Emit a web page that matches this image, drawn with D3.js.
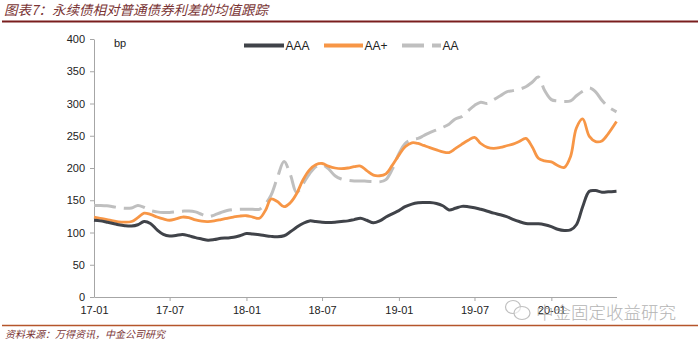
<!DOCTYPE html>
<html>
<head>
<meta charset="utf-8">
<script src="https://cdn.jsdelivr.net/npm/d3@7"></script>
<style>
  html, body { margin: 0; padding: 0; background: #fff; }
  svg { display: block; }
</style>
</head>
<body>
<svg id="chart" width="700" height="342"></svg>
<script>
// ---- text ----
const titleText = "图表7：永续债相对普通债券利差的均值跟踪";
const sourceText = "资料来源：万得资讯，中金公司研究";
const watermarkText = "中金固定收益研究";
const unitLabel = "bp";
const seriesNames = ["AAA", "AA+", "AA"];

// ---- axes ----
const xTickLabels = ["17-01", "17-07", "18-01", "18-07", "19-01", "19-07", "20-01"];
const yTickValues = [0, 50, 100, 150, 200, 250, 300, 350, 400];

// ---- observation dates (semi-monthly) ----
const dates = [
  "2017-01-01","2017-01-16","2017-02-01","2017-02-16","2017-03-01","2017-03-16","2017-04-01","2017-04-16",
  "2017-05-01","2017-05-16","2017-06-01","2017-06-16","2017-07-01","2017-07-16","2017-08-01","2017-08-16",
  "2017-09-01","2017-09-16","2017-10-01","2017-10-16","2017-11-01","2017-11-16","2017-12-01","2017-12-16",
  "2018-01-01","2018-01-16","2018-02-01","2018-02-16","2018-03-01","2018-03-16","2018-04-01","2018-04-16",
  "2018-05-01","2018-05-16","2018-06-01","2018-06-16","2018-07-01","2018-07-16","2018-08-01","2018-08-16",
  "2018-09-01","2018-09-16","2018-10-01","2018-10-16","2018-11-01","2018-11-16","2018-12-01","2018-12-16",
  "2019-01-01","2019-01-16","2019-02-01","2019-02-16","2019-03-01","2019-03-16","2019-04-01","2019-04-16",
  "2019-05-01","2019-05-16","2019-06-01","2019-06-16","2019-07-01","2019-07-16","2019-08-01","2019-08-16",
  "2019-09-01","2019-09-16","2019-10-01","2019-10-16","2019-11-01","2019-11-16","2019-12-01","2019-12-16",
  "2020-01-01","2020-01-16","2020-02-01","2020-02-16","2020-03-01","2020-03-16","2020-04-01","2020-04-16",
  "2020-05-01","2020-05-16","2020-06-05"
];

// ---- spread averages, bp ----
const aaa = [
  119,118,116,114,112,110.5,110,112,117,114,104,97,94.5,95.5,97,95,
  92,90,88,89,91,91.5,92.5,95,98.5,97.5,96.5,95,94,93.5,95,101,
  108,114,118,117,116,115.5,116,117,118,120,122,119,115,118,124,129,
  134,140,144,146,146.5,146.5,145,141.5,135,137.5,140.5,140,138.5,136,133,130,
  127.5,124.5,120.5,117,114,113.5,113.5,112,109,105,103,104,112,140,164,165,
  162.5,163,164
];
const aaPlus = [
  124,122,120,118,116.5,116,117,123,130,128,124,121,119,121,124,123,
  119.5,117.5,117,118,120,122,124,125.5,126,124,122,135,152,148,140,146,
  160,181,197,205,207,203,200,199,200,202,203,196,189,188,191,204,
  220,233,239,238,235,231.5,228,225,224,230,237,243,247.5,238,232,230.5,
  232,234.5,237,241,246,233,215,211,209.5,204,201,218,262,276,249,241,
  242,253,272
];
const aa = [
  142,142,141.5,140,138.5,137.5,138,142,139,134,132,131,131,132,133,133.5,
  132,128,124.5,127,131,134,135.5,136,136,136,136,145,158,185,210,190,
  162,175,191,202,205,199,188,183,181,180,180,179.5,179,178.5,182,198,
  222,238,244,246,250,255,259,263,268,276,280,289,297,302,300,306,
  312,318,320,322,326,333,341,320,306,304,303,304,312,319,324,318,
  305,295,287
];

// ---- styles ----
const colors = { "AAA": "#404349", "AA+": "#f79646", "AA": "#bfbfbf" };
const widths = { "AAA": 3, "AA+": 2.8, "AA": 3 };
const dashes = { "AAA": null, "AA+": null, "AA": "22,8" };

const parseDate = d3.timeParse("%Y-%m-%d");
const parseTick = d3.timeParse("%y-%m");
const series = [
  { name: "AAA", values: aaa },
  { name: "AA+", values: aaPlus },
  { name: "AA", values: aa }
].map(s => ({ name: s.name, points: s.values.map((v, i) => ({ date: parseDate(dates[i]), value: v })) }));

const svg = d3.select("#chart");
svg.append("rect").attr("width", 700).attr("height", 342).attr("fill", "#fff");

const numFont = "'Liberation Sans', Arial, sans-serif";
const cjkFont = "'Noto Sans CJK SC', 'Noto Sans', sans-serif";

// header
svg.append("text")
  .attr("x", 4).attr("y", 15)
  .attr("font-family", cjkFont).attr("font-size", 13.5).attr("font-style", "italic")
  .attr("fill", "#7a3434")
  .text(titleText);
svg.append("line").attr("x1", 2).attr("x2", 698).attr("y1", 21.5).attr("y2", 21.5)
  .attr("stroke", "#7a1e1e").attr("stroke-width", 2);

// footer
svg.append("line").attr("x1", 2).attr("x2", 698).attr("y1", 325.5).attr("y2", 325.5)
  .attr("stroke", "#b5552b").attr("stroke-width", 1.5);
svg.append("text")
  .attr("x", 5).attr("y", 338)
  .attr("font-family", cjkFont).attr("font-size", 10).attr("font-style", "italic")
  .attr("fill", "#7a3434")
  .text(sourceText);

// scales
const x = d3.scaleTime()
  .domain([parseDate(dates[0]), parseDate(dates[dates.length - 1])])
  .range([94, 616.5]);
const y = d3.scaleLinear().domain([0, 400]).range([297, 39]);

const axisColor = "#a6a6a6";

// y axis
const yAxis = svg.append("g").attr("transform", "translate(94,0)")
  .call(d3.axisLeft(y).tickValues(yTickValues).tickSize(4).tickSizeOuter(0).tickPadding(5));
yAxis.select(".domain").attr("stroke", axisColor);
yAxis.selectAll(".tick line").attr("stroke", axisColor);
yAxis.selectAll(".tick text")
  .attr("font-family", numFont).attr("font-size", 11).attr("fill", "#222");

// x axis
const xAxis = svg.append("g").attr("transform", "translate(0,297)")
  .call(d3.axisBottom(x)
    .tickValues(xTickLabels.map(parseTick))
    .tickFormat(d3.timeFormat("%y-%m"))
    .tickSize(4).tickSizeOuter(0).tickPadding(5));
xAxis.select(".domain").attr("stroke", axisColor);
xAxis.selectAll(".tick line").attr("stroke", axisColor)
  .attr("opacity", (d, i) => i === 0 ? 0 : 1);
xAxis.selectAll(".tick text")
  .attr("font-family", numFont).attr("font-size", 11).attr("fill", "#222");

// unit
svg.append("text").attr("x", 114).attr("y", 47)
  .attr("font-family", numFont).attr("font-size", 11).attr("fill", "#222")
  .text(unitLabel);

// lines
const line = d3.line()
  .x(d => x(d.date))
  .y(d => y(d.value))
  .curve(d3.curveCatmullRom.alpha(0.5));

svg.append("g").selectAll("path")
  .data(series.slice().reverse())
  .join("path")
  .attr("d", d => line(d.points))
  .attr("fill", "none")
  .attr("stroke", d => colors[d.name])
  .attr("stroke-width", d => widths[d.name])
  .attr("stroke-dasharray", d => dashes[d.name])
  .attr("stroke-linejoin", "round");

// legend
const legendItems = [
  { name: "AAA", x0: 244, x1: 284 },
  { name: "AA+", x0: 324, x1: 363 },
  { name: "AA", x0: 402, x1: 441 }
];
const legend = svg.append("g");
legendItems.forEach(it => {
  legend.append("line")
    .attr("x1", it.x0).attr("x2", it.x1).attr("y1", 45.5).attr("y2", 45.5)
    .attr("stroke", colors[it.name]).attr("stroke-width", 4)
    .attr("stroke-dasharray", dashes[it.name]);
  legend.append("text")
    .attr("x", it.x1 + 1.5).attr("y", 45.5).attr("dy", "0.36em")
    .attr("font-family", numFont).attr("font-size", 12).attr("fill", "#222")
    .text(it.name);
});

// watermark
const wm = svg.append("g").attr("opacity", 0.85);
wm.append("ellipse").attr("cx", 513).attr("cy", 307).attr("rx", 7.5).attr("ry", 6.5)
  .attr("fill", "rgba(255,255,255,0.6)").attr("stroke", "#b5b5b5").attr("stroke-width", 1.2);
wm.append("ellipse").attr("cx", 522).attr("cy", 313).attr("rx", 8).attr("ry", 6.5)
  .attr("fill", "rgba(255,255,255,0.6)").attr("stroke", "#b5b5b5").attr("stroke-width", 1.2);
wm.append("text").attr("x", 536).attr("y", 319)
  .attr("font-family", cjkFont).attr("font-size", 17.5).attr("font-weight", 300)
  .attr("fill", "#a8a8a8")
  .text(watermarkText);
</script>
</body>
</html>
